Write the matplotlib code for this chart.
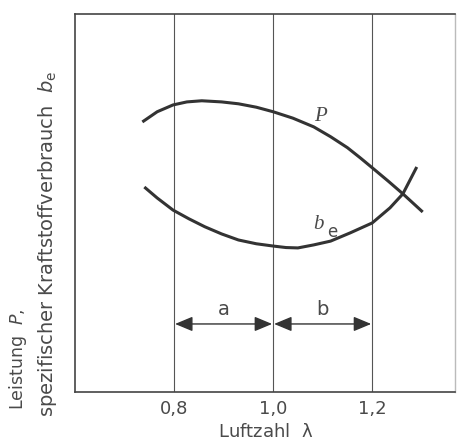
import matplotlib
matplotlib.use('Agg')
import matplotlib.pyplot as plt

# Data (lambda vs. relative value, 0..100)
lam_P = [0.736, 0.766, 0.798, 0.826, 0.856, 0.896, 0.930, 0.966, 1.000,
         1.040, 1.082, 1.116, 1.150, 1.176, 1.200, 1.232, 1.262, 1.302]
val_P = [71.4, 74.1, 75.9, 76.7, 77.0, 76.7, 76.2, 75.3, 74.1,
         72.4, 70.1, 67.5, 64.6, 61.9, 59.3, 55.8, 52.4, 47.6]

lam_be = [0.740, 0.766, 0.798, 0.830, 0.862, 0.896, 0.930, 0.966, 1.000,
          1.026, 1.050, 1.082, 1.116, 1.156, 1.200, 1.236, 1.262, 1.290]
val_be = [54.2, 51.3, 48.1, 45.8, 43.7, 41.8, 40.2, 39.2, 38.6,
          38.2, 38.1, 38.9, 39.9, 42.1, 44.7, 48.7, 52.4, 59.5]

grid_x      = [0.8, 1.0, 1.2]
tick_labels = ['0,8', '1,0', '1,2']
ranges      = [('a', 0.8, 1.0), ('b', 1.0, 1.2)]
arrow_y     = 18.0

plt.rcParams['font.family'] = ['DejaVu Sans']
ink = '#333333'
txt = '#4a4a4a'

fig = plt.figure(figsize=(4.6, 4.44), dpi=100)
ax = fig.add_axes([0.163, 0.117, 0.827, 0.852])
ax.set_xlim(0.6, 1.368)
ax.set_ylim(0, 100)

for gx in grid_x:
    ax.axvline(gx, color='#555555', lw=0.8, zorder=1)

ax.plot(lam_P, val_P, color=ink, lw=2.2, solid_capstyle='butt', zorder=3)
ax.plot(lam_be, val_be, color=ink, lw=2.2, solid_capstyle='butt', zorder=3)

# curve labels
ax.text(1.096, 72.8, 'P', fontsize=15, fontstyle='italic', family='Liberation Serif',
        color=txt, ha='center', va='center')
ax.text(1.092, 44.4, 'b', fontsize=15, fontstyle='italic', family='Liberation Serif',
        color=txt, ha='center', va='center')
ax.text(1.119, 42.3, 'e', fontsize=12, color=txt, ha='center', va='center')

for lbl, x0, x1 in ranges:
    ax.annotate('', xy=(x0 + 0.002, arrow_y), xytext=(x1 - 0.002, arrow_y),
                arrowprops=dict(arrowstyle='<|-|>,head_length=0.6,head_width=0.25',
                                color=ink, lw=1.0, mutation_scale=18,
                                shrinkA=0, shrinkB=0))
    ax.text((x0 + x1) / 2, 21.7, lbl, fontsize=14, color=txt,
            ha='center', va='center')

ax.set_xticks(grid_x)
ax.set_xticklabels(tick_labels, fontsize=13, color=txt)
ax.tick_params(axis='x', length=0, pad=6)
ax.set_yticks([])

for s in ['left', 'bottom', 'top']:
    ax.spines[s].set_color('#444444')
    ax.spines[s].set_linewidth(1.2)
ax.spines['right'].set_color('#bbbbbb')
ax.spines['right'].set_linewidth(1.0)

ax.set_xlabel(r'Luftzahl  $\mathrm{\lambda}$', fontsize=13, color=txt, labelpad=3)

fig.text(0.040, 0.0766, r'Leistung  $P$,', rotation=90, fontsize=12.5,
         color=txt, ha='center', va='bottom')
fig.text(0.104, 0.061, r'spezifischer Kraftstoffverbrauch  $b_\mathrm{e}$', rotation=90,
         fontsize=14, color=txt, ha='center', va='bottom')

fig.savefig('out.png', dpi=100, facecolor='white')
